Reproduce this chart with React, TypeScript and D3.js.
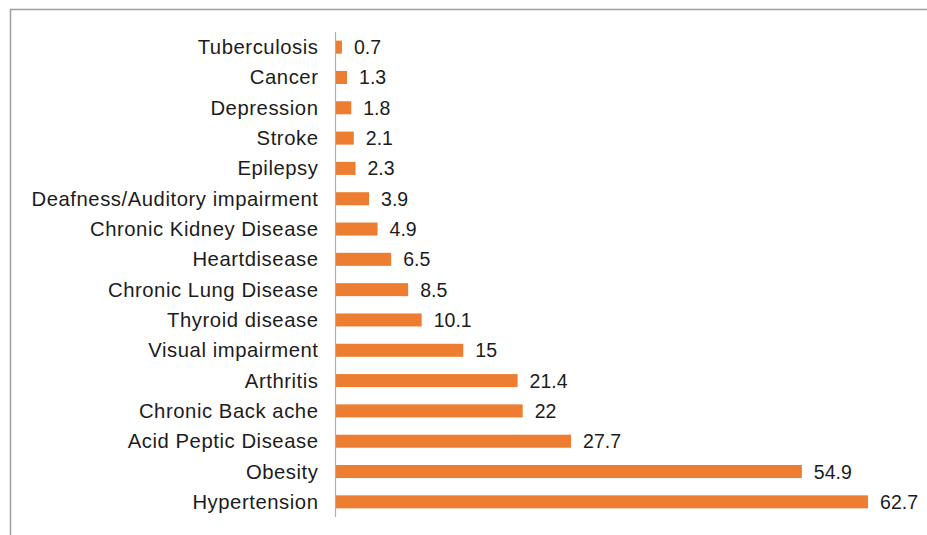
import React from "react";
import * as d3 from "d3";

const categories: string[] = [
  "Tuberculosis",
  "Cancer",
  "Depression",
  "Stroke",
  "Epilepsy",
  "Deafness/Auditory impairment",
  "Chronic Kidney Disease",
  "Heartdisease",
  "Chronic Lung Disease",
  "Thyroid disease",
  "Visual impairment",
  "Arthritis",
  "Chronic Back ache",
  "Acid Peptic Disease",
  "Obesity",
  "Hypertension",
];

const values: number[] = [0.7, 1.3, 1.8, 2.1, 2.3, 3.9, 4.9, 6.5, 8.5, 10.1, 15, 21.4, 22, 27.7, 54.9, 62.7];

const valueLabels: string[] = values.map((v) => String(v));

const W = 927;
const H = 535;

export default function App() {
  const y = d3
    .scaleBand<string>()
    .domain(categories)
    .range([32, 517])
    .paddingInner(0.57)
    .paddingOuter(0.285);
  const x = d3.scaleLinear().domain([0, 70]).range([336, 930]);
  const font = "'Liberation Sans', Arial, Helvetica, sans-serif";

  return (
    <svg
      width={W}
      height={H}
      style={{ position: "absolute", left: 0, top: 0, background: "#fff" }}
    >
      <rect x={10.5} y={9.5} width={W + 20} height={H + 20} fill="#fff" stroke="#a3a3a3" strokeWidth={1.6} />
      {categories.map((c, i) => {
        const yy = y(c)!;
        const bw = y.bandwidth();
        return (
          <g key={c}>
            <rect x={x(0)} y={yy} width={x(values[i]) - x(0)} height={bw} fill="#ED7D31" />
            <text
              x={318.5}
              y={yy + bw / 2}
              textAnchor="end"
              dominantBaseline="central"
              fontFamily={font}
              fontSize={20.3}
              letterSpacing={0.55}
              fill="#1c1c1c"
            >
              {c}
            </text>
            <text
              x={x(values[i]) + 12}
              y={yy + bw / 2}
              dominantBaseline="central"
              fontFamily={font}
              fontSize={19.5}
              fill="#1c1c1c"
            >
              {valueLabels[i]}
            </text>
          </g>
        );
      })}
      <line x1={335.5} x2={335.5} y1={32} y2={517} stroke="#b0b0b0" strokeWidth={1.2} />
    </svg>
  );
}
